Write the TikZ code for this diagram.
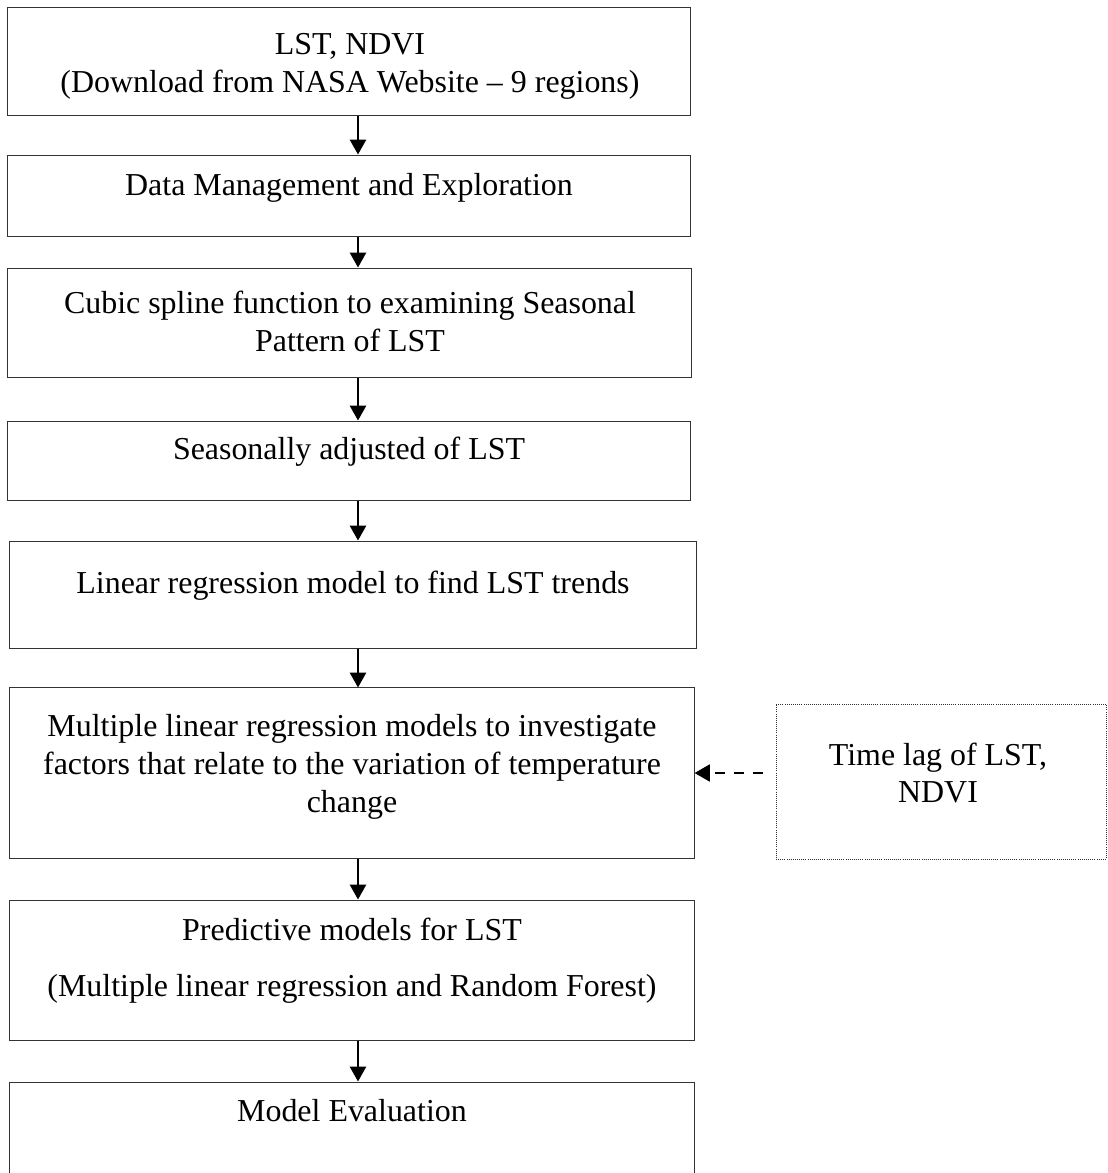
\documentclass[tikz,border=0pt]{standalone}
\usepackage{fontspec}
\setmainfont{Liberation Serif}
\usetikzlibrary{arrows.meta}
\tikzset{
  boxnode/.style={draw=black!80, line width=0.7pt, inner sep=0pt, rectangle},
  dotbox/.style={draw=black!80, line width=0.6pt, dash pattern=on 0.6pt off 0.9pt, inner sep=0pt, rectangle},
  txt/.style={align=center, inner sep=0pt, font=\fontsize{22.7}{27}\selectfont},
  arr/.style={line width=1.7pt, -{Triangle[length=0.37cm,width=0.4cm]}},
  darr/.style={line width=1.7pt, dash pattern=on 0.25cm off 0.22cm, -{Triangle[length=0.38cm,width=0.42cm]}}
}
\begin{document}
\begin{tikzpicture}[x=0.025cm,y=-0.025cm]
\clip (0,0) rectangle (1108,1173);
\fill[white] (0,0) rectangle (1108,1173);
% boxes
\node[boxnode, minimum width=17.05cm, minimum height=2.675cm] (b1) at (349,61.5) {};
\node[boxnode, minimum width=17.05cm, minimum height=2.025cm] (b2) at (349,195.5) {};
\node[boxnode, minimum width=17.075cm, minimum height=2.725cm] (b3) at (349.5,322.5) {};
\node[boxnode, minimum width=17.05cm, minimum height=1.975cm] (b4) at (349,460.5) {};
\node[boxnode, minimum width=17.15cm, minimum height=2.675cm] (b5) at (353,594.5) {};
\node[boxnode, minimum width=17.1cm, minimum height=4.25cm] (b6) at (352,773) {};
\node[dotbox, minimum width=8.25cm, minimum height=3.875cm] (dt) at (941,781.5) {};
\node[boxnode, minimum width=17.1cm, minimum height=3.5cm] (b7) at (352,970) {};
\node[boxnode, minimum width=17.1cm, minimum height=3.5cm] (b8) at (352,1152) {};
% texts
\node[txt] (t1) at (350,66) {LST, NDVI\\(Download from NASA Website -- 9 regions)};
\node[txt] (t2) at (349,188) {Data Management and Exploration};
\node[txt] (t3) at (350,321) {Cubic spline function to examining Seasonal\\Pattern of LST};
\node[txt] (t4) at (349,452) {Seasonally adjusted of LST};
\node[txt] (t5) at (353,586) {Linear regression model to find LST trends};
\node[txt] (t6) at (352,767) {Multiple linear regression models to investigate\\factors that relate to the variation of temperature\\change};
\node[txt] (t7) at (352,961) {Predictive models for LST\\[13pt](Multiple linear regression and Random Forest)};
\node[txt] (t8) at (352,1111) {Model Evaluation};
\node[txt] (td) at (938,773) {Time lag of LST,\\NDVI};
% connectors
\coordinate (ax) at (358,0);
\draw[arr] (b1.south -| ax) -- (b2.north -| ax);
\draw[arr] (b2.south -| ax) -- (b3.north -| ax);
\draw[arr] (b3.south -| ax) -- (b4.north -| ax);
\draw[arr] (b4.south -| ax) -- (b5.north -| ax);
\draw[arr] (b5.south -| ax) -- (b6.north -| ax);
\draw[arr] (b6.south -| ax) -- (b7.north -| ax);
\draw[arr] (b7.south -| ax) -- (b8.north -| ax);
\draw[darr] ([xshift=-0.325cm]dt.west |- b6.east) -- (b6.east);
\end{tikzpicture}
\end{document}
